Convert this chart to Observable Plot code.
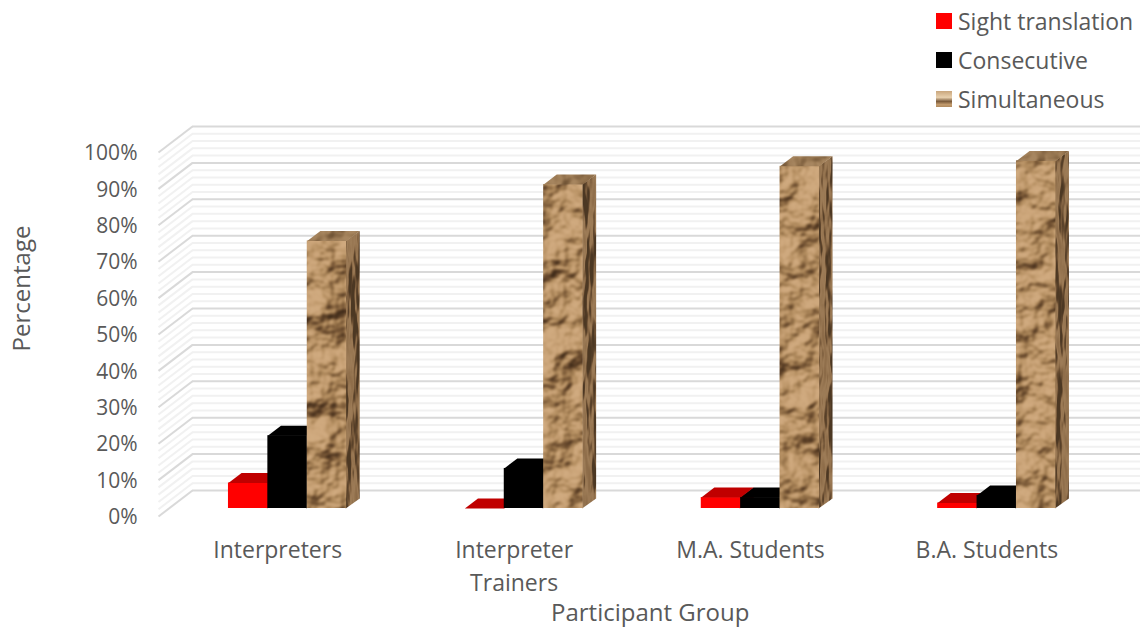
<!DOCTYPE html>
<html>
<head>
<meta charset="utf-8">
<script src="https://cdn.jsdelivr.net/npm/d3@7"></script>
<script src="https://cdn.jsdelivr.net/npm/@observablehq/plot@0.6"></script>
<style>
  html, body { margin: 0; padding: 0; background: #fff; }
  #chart { position: relative; width: 1140px; height: 627px; overflow: hidden; font-family: "Open Sans", sans-serif; }
  #chart svg.plot { display: block; }
  .key { position: absolute; left: 936px; display: flex; align-items: center; height: 30px; color: #595959; font-size: 23px; white-space: nowrap; }
  .key i { display: block; width: 16px; height: 16px; margin-right: 6px; }
</style>
</head>
<body>
<div id="chart"></div>
<svg width="0" height="0" style="position:absolute">
  <defs>
    <filter id="paperFront" filterUnits="userSpaceOnUse" x="0" y="0" width="1140" height="627" color-interpolation-filters="sRGB">
      <feTurbulence type="fractalNoise" baseFrequency="0.024 0.028" numOctaves="4" seed="23" result="noise"/>
      <feDiffuseLighting in="noise" surfaceScale="15" diffuseConstant="0.85" lighting-color="#ffffff" result="lit">
        <feDistantLight azimuth="235" elevation="52"/>
      </feDiffuseLighting>
      <feComponentTransfer result="toned">
        <feFuncR type="table" tableValues="0.25 0.40 0.58 0.72 0.80 0.88"/>
        <feFuncG type="table" tableValues="0.17 0.28 0.44 0.57 0.65 0.74"/>
        <feFuncB type="table" tableValues="0.10 0.17 0.28 0.39 0.48 0.58"/>
      </feComponentTransfer>
      <feGaussianBlur stdDeviation="0.8" result="soft"/>
      <feComposite in="soft" in2="SourceGraphic" operator="in"/>
    </filter>
    <filter id="paperSide" filterUnits="userSpaceOnUse" x="0" y="0" width="1140" height="627" color-interpolation-filters="sRGB">
      <feTurbulence type="fractalNoise" baseFrequency="0.09 0.018" numOctaves="3" seed="4" result="noise"/>
      <feDiffuseLighting in="noise" surfaceScale="14" diffuseConstant="0.62" lighting-color="#ffffff" result="lit">
        <feDistantLight azimuth="200" elevation="55"/>
      </feDiffuseLighting>
      <feComponentTransfer result="toned">
        <feFuncR type="table" tableValues="0.30 0.42 0.56 0.68 0.74"/>
        <feFuncG type="table" tableValues="0.22 0.31 0.43 0.55 0.62"/>
        <feFuncB type="table" tableValues="0.14 0.20 0.29 0.40 0.48"/>
      </feComponentTransfer>
      <feGaussianBlur stdDeviation="0.5" result="soft"/>
      <feComposite in="soft" in2="SourceGraphic" operator="in"/>
    </filter>
    <filter id="paperTop" filterUnits="userSpaceOnUse" x="0" y="0" width="1140" height="627" color-interpolation-filters="sRGB">
      <feTurbulence type="fractalNoise" baseFrequency="0.06" numOctaves="2" seed="7" result="noise"/>
      <feDiffuseLighting in="noise" surfaceScale="8" diffuseConstant="0.8" lighting-color="#ffffff" result="lit">
        <feDistantLight azimuth="240" elevation="60"/>
      </feDiffuseLighting>
      <feComponentTransfer result="toned">
        <feFuncR type="table" tableValues="0.38 0.50 0.62 0.72"/>
        <feFuncG type="table" tableValues="0.28 0.38 0.49 0.59"/>
        <feFuncB type="table" tableValues="0.17 0.25 0.34 0.44"/>
      </feComponentTransfer>
      <feComposite in2="SourceGraphic" operator="in"/>
    </filter>
  </defs>
</svg>
<script>
// Survey results: share of each participant group per interpreting mode
const groups = ["Interpreters", "Interpreter\nTrainers", "M.A. Students", "B.A. Students"];
const sightTranslation = [7, 0, 3, 1.5];
const consecutive = [20, 11, 3, 3.6];
const simultaneous = [73.5, 89, 94, 95.5];
const seriesNames = ["Sight translation", "Consecutive", "Simultaneous"];
const percentTicks = [0, 10, 20, 30, 40, 50, 60, 70, 80, 90, 100];
const minorTicks = d3.range(0, 101, 2).filter((t) => t % 10 !== 0);

// Oblique projection: depth 0 is the front of the floor, depth 1 the back wall
const depthX = 34 / 236.4; // category units
const depthY = 26 / 3.64;  // percent units
const px = (x, depth) => x + depth * depthX;
const py = (v, depth) => v - (1 - depth) * depthY;

const barFront = 8 / 26, barBack = 18 / 26;
const barStart = 0.2517, barWidth = 1 / 6;
const seamOverlap = 0.004; // side faces tuck under the front face to hide the seam

const bars = [sightTranslation, consecutive, simultaneous].flatMap((values, s) =>
  values.map((v, g) => ({series: s, group: g, value: v, x0: g + barStart + s * barWidth, x1: g + barStart + (s + 1) * barWidth}))
);

const frontFace = (s) => bars.filter((b) => b.series === s).map((b) => ({
  x1: px(b.x0, barFront), x2: px(b.x1, barFront), y1: py(0, barFront), y2: py(b.value, barFront)
}));
const topFace = (s) => bars.filter((b) => b.series === s).flatMap((b, i) => [
  {k: i, x: px(b.x0, barFront), y: py(b.value, barFront)},
  {k: i, x: px(b.x1, barFront), y: py(b.value, barFront)},
  {k: i, x: px(b.x1, barBack), y: py(b.value, barBack)},
  {k: i, x: px(b.x0, barBack), y: py(b.value, barBack)}
]);
const sideFace = (s) => bars.filter((b) => b.series === s).flatMap((b, i) => [
  {k: i, x: px(b.x1, barFront) - seamOverlap, y: py(0, barFront)},
  {k: i, x: px(b.x1, barBack), y: py(0, barBack)},
  {k: i, x: px(b.x1, barBack), y: py(b.value, barBack)},
  {k: i, x: px(b.x1, barFront) - seamOverlap, y: py(b.value, barFront)}
]);
const face = (data, options) => Plot.line(data, {x: "x", y: "y", z: "k", stroke: "none", ...options});

const wall = (ticks, color) => [
  Plot.ruleY(ticks, {x1: px(0, 1), x2: px(4.02, 1), stroke: color, strokeWidth: 2}),
  Plot.link(ticks, {x1: 0, x2: px(0, 1), y1: (t) => py(t, 0), y2: (t) => t, stroke: color, strokeWidth: 2})
];

const chart = Plot.plot({
  width: 1140,
  height: 627,
  marginLeft: 158,
  marginRight: 36.4,
  marginTop: 126,
  marginBottom: 111,
  x: {domain: [0, 4], axis: null},
  y: {domain: [-depthY, 100], axis: null},
  style: {fontFamily: '"Open Sans", sans-serif', background: "#fff", overflow: "visible"},
  marks: [
    ...wall(minorTicks, "#f1f1f1"),
    ...wall(percentTicks, "#d9d9d9"),

    // Sight translation
    face(sideFace(0), {fill: "#c00000"}),
    Plot.rect(frontFace(0), {x1: "x1", x2: "x2", y1: "y1", y2: "y2", fill: "#ff0000"}),
    face(topFace(0), {fill: "#c00000"}),

    // Consecutive
    face(sideFace(1), {fill: "#000"}),
    Plot.rect(frontFace(1), {x1: "x1", x2: "x2", y1: "y1", y2: "y2", fill: "#000"}),
    face(topFace(1), {fill: "#000"}),

    // Simultaneous, textured like crumpled paper
    face(sideFace(2), {fill: "#000", imageFilter: "url(#paperSide)"}),
    Plot.rect(frontFace(2), {x1: "x1", x2: "x2", y1: "y1", y2: "y2", fill: "#000", imageFilter: "url(#paperFront)"}),
    face(topFace(2), {fill: "#000", imageFilter: "url(#paperTop)"}),

    Plot.axisY(percentTicks, {
      anchor: "left", tickSize: 0, tickPadding: 21, dy: 27, label: null,
      tickFormat: (d) => `${d}%`, fontSize: 21, color: "#595959", fill: "#595959"
    }),
    Plot.text(groups, {
      x: (d, i) => i + 0.5, dx: 1, frameAnchor: "bottom", lineAnchor: "top", dy: 19,
      text: (d) => d, fontSize: 23, lineHeight: 1.4, fill: "#595959"
    }),
    Plot.text(["Participant Group"], {
      x: 2.08, frameAnchor: "bottom", lineAnchor: "middle", dy: 97, text: (d) => d, fontSize: 24, fill: "#595959"
    }),
    Plot.text(["Percentage"], {
      frameAnchor: "left", textAnchor: "middle", rotate: -90, dx: -136, dy: -33, text: (d) => d, fontSize: 24, fill: "#595959"
    })
  ]
});

const root = document.getElementById("chart");
root.append(chart);

// Legend sits over the top right corner of the chart
const swatches = ["#ff0000", "#000000", "linear-gradient(#c9a67c 0%, #e8d0ae 40%, #7a5a3a 65%, #c39b6d 85%, #b08a5e 100%)"];
const tops = [6, 45, 84];
seriesNames.forEach((name, i) => {
  const row = document.createElement("div");
  row.className = "key";
  row.style.top = tops[i] + "px";
  const sw = document.createElement("i");
  sw.style.background = swatches[i];
  row.append(sw, name);
  root.append(row);
});
</script>
</body>
</html>
